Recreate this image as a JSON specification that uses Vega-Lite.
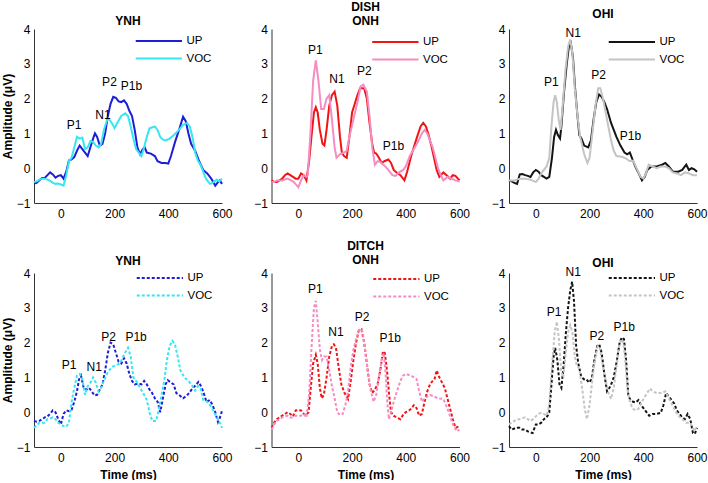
{
"$schema":"https://vega.github.io/schema/vega-lite/v6.json",
"padding":{"left":1,"top":0,"right":2,"bottom":0},
"resolve":{"scale":{"color":"independent","x":"independent","y":"independent"},"legend":{"color":"independent"},"axis":{"x":"independent","y":"independent"}},
"config":{
 "font":"Liberation Sans",
 "view":{"stroke":null},
 "axis":{"domainColor":"#333","ticks":false,"tickSize":0,"grid":false,"labelFontSize":12,"labelColor":"#000","labelFlush":false,"labelOverlap":false,"titleFontSize":12,"titleFontWeight":"bold","titleColor":"#000"},
 "axisX":{"labelPadding":5,"titlePadding":6},
 "axisY":{"labelPadding":4,"tickCount":6,"titlePadding":2},
 "title":{"fontSize":12,"fontWeight":"bold","anchor":"middle","lineHeight":14,"color":"#000"},
 "legend":{"orient":"none","symbolType":"M-8.25,0H1","symbolSize":100,"symbolStrokeWidth":2,"labelFontSize":11.5,"labelColor":"#000","padding":0,"rowPadding":5.5,"labelOffset":3.5,"title":null},
 "text":{"fontSize":12,"color":"#000"}
},
"datasets":{
"p1":[
{"s":"UP","t":-100,"v":-0.44},{"s":"UP","t":-90,"v":-0.42},{"s":"UP","t":-80,"v":-0.35},{"s":"UP","t":-70,"v":-0.28},{"s":"UP","t":-60,"v":-0.28},{"s":"UP","t":-50,"v":-0.2},{"s":"UP","t":-40,"v":-0.12},{"s":"UP","t":-30,"v":-0.18},{"s":"UP","t":-20,"v":-0.27},{"s":"UP","t":-10,"v":-0.22},{"s":"UP","t":0,"v":-0.2},{"s":"UP","t":10,"v":-0.3},{"s":"UP","t":20,"v":-0.1},{"s":"UP","t":30,"v":0.22},{"s":"UP","t":40,"v":0.25},{"s":"UP","t":50,"v":0.32},{"s":"UP","t":60,"v":0.5},{"s":"UP","t":70,"v":0.65},{"s":"UP","t":80,"v":0.55},{"s":"UP","t":90,"v":0.45},{"s":"UP","t":100,"v":0.35},{"s":"UP","t":110,"v":0.6},{"s":"UP","t":120,"v":0.85},{"s":"UP","t":127,"v":1.0},{"s":"UP","t":135,"v":0.9},{"s":"UP","t":145,"v":0.65},{"s":"UP","t":155,"v":0.7},{"s":"UP","t":165,"v":1.0},{"s":"UP","t":175,"v":1.5},{"s":"UP","t":185,"v":1.85},{"s":"UP","t":195,"v":2.05},{"s":"UP","t":205,"v":2.02},{"s":"UP","t":215,"v":1.92},{"s":"UP","t":225,"v":1.9},{"s":"UP","t":235,"v":1.95},{"s":"UP","t":245,"v":1.85},{"s":"UP","t":255,"v":1.65},{"s":"UP","t":265,"v":1.5},{"s":"UP","t":275,"v":1.1},{"s":"UP","t":285,"v":0.6},{"s":"UP","t":295,"v":0.4},{"s":"UP","t":305,"v":0.55},{"s":"UP","t":312,"v":0.6},{"s":"UP","t":320,"v":0.45},{"s":"UP","t":335,"v":0.42},{"s":"UP","t":350,"v":0.35},{"s":"UP","t":360,"v":0.2},{"s":"UP","t":375,"v":0.15},{"s":"UP","t":390,"v":0.15},{"s":"UP","t":400,"v":0.13},{"s":"UP","t":410,"v":0.35},{"s":"UP","t":425,"v":0.75},{"s":"UP","t":440,"v":1.1},{"s":"UP","t":455,"v":1.48},{"s":"UP","t":465,"v":1.35},{"s":"UP","t":475,"v":1.0},{"s":"UP","t":485,"v":0.7},{"s":"UP","t":500,"v":0.5},{"s":"UP","t":515,"v":0.2},{"s":"UP","t":530,"v":-0.05},{"s":"UP","t":545,"v":-0.15},{"s":"UP","t":560,"v":-0.3},{"s":"UP","t":575,"v":-0.5},{"s":"UP","t":585,"v":-0.4},{"s":"UP","t":592,"v":-0.35},{"s":"UP","t":600,"v":-0.45},
{"s":"VOC","t":-100,"v":-0.4},{"s":"VOC","t":-90,"v":-0.38},{"s":"VOC","t":-80,"v":-0.33},{"s":"VOC","t":-70,"v":-0.3},{"s":"VOC","t":-60,"v":-0.3},{"s":"VOC","t":-50,"v":-0.33},{"s":"VOC","t":-40,"v":-0.36},{"s":"VOC","t":-30,"v":-0.42},{"s":"VOC","t":-20,"v":-0.45},{"s":"VOC","t":-10,"v":-0.44},{"s":"VOC","t":0,"v":-0.47},{"s":"VOC","t":10,"v":-0.5},{"s":"VOC","t":20,"v":-0.2},{"s":"VOC","t":30,"v":0.2},{"s":"VOC","t":40,"v":0.3},{"s":"VOC","t":50,"v":0.6},{"s":"VOC","t":60,"v":0.9},{"s":"VOC","t":70,"v":0.85},{"s":"VOC","t":80,"v":0.88},{"s":"VOC","t":90,"v":0.55},{"s":"VOC","t":100,"v":0.6},{"s":"VOC","t":110,"v":0.78},{"s":"VOC","t":120,"v":0.75},{"s":"VOC","t":130,"v":0.65},{"s":"VOC","t":140,"v":0.6},{"s":"VOC","t":150,"v":0.7},{"s":"VOC","t":160,"v":1.1},{"s":"VOC","t":175,"v":1.45},{"s":"VOC","t":190,"v":1.3},{"s":"VOC","t":200,"v":1.15},{"s":"VOC","t":210,"v":1.3},{"s":"VOC","t":225,"v":1.5},{"s":"VOC","t":240,"v":1.58},{"s":"VOC","t":250,"v":1.5},{"s":"VOC","t":260,"v":1.2},{"s":"VOC","t":270,"v":0.85},{"s":"VOC","t":280,"v":0.55},{"s":"VOC","t":290,"v":0.45},{"s":"VOC","t":300,"v":0.35},{"s":"VOC","t":310,"v":0.6},{"s":"VOC","t":320,"v":0.9},{"s":"VOC","t":330,"v":1.15},{"s":"VOC","t":350,"v":1.2},{"s":"VOC","t":360,"v":1.1},{"s":"VOC","t":370,"v":0.9},{"s":"VOC","t":380,"v":0.82},{"s":"VOC","t":390,"v":0.8},{"s":"VOC","t":405,"v":0.85},{"s":"VOC","t":420,"v":0.95},{"s":"VOC","t":440,"v":1.1},{"s":"VOC","t":455,"v":1.25},{"s":"VOC","t":470,"v":1.3},{"s":"VOC","t":480,"v":1.2},{"s":"VOC","t":490,"v":0.9},{"s":"VOC","t":500,"v":0.45},{"s":"VOC","t":510,"v":0.22},{"s":"VOC","t":520,"v":0.1},{"s":"VOC","t":530,"v":-0.1},{"s":"VOC","t":540,"v":-0.3},{"s":"VOC","t":555,"v":-0.45},{"s":"VOC","t":565,"v":-0.42},{"s":"VOC","t":580,"v":-0.33},{"s":"VOC","t":590,"v":-0.38},{"s":"VOC","t":600,"v":-0.3}
],
"l1":[{"label":"P1","t":49,"v":1.24},{"label":"N1","t":157,"v":1.53},{"label":"P2","t":181,"v":2.49},{"label":"P1b","t":263,"v":2.37}],
"p2":[
{"s":"UP","t":-100,"v":-0.35},{"s":"UP","t":-90,"v":-0.4},{"s":"UP","t":-80,"v":-0.4},{"s":"UP","t":-70,"v":-0.35},{"s":"UP","t":-60,"v":-0.3},{"s":"UP","t":-50,"v":-0.2},{"s":"UP","t":-40,"v":-0.15},{"s":"UP","t":-30,"v":-0.2},{"s":"UP","t":-20,"v":-0.25},{"s":"UP","t":-10,"v":-0.3},{"s":"UP","t":0,"v":-0.3},{"s":"UP","t":10,"v":-0.15},{"s":"UP","t":20,"v":-0.2},{"s":"UP","t":30,"v":-0.35},{"s":"UP","t":40,"v":0.2},{"s":"UP","t":50,"v":1.0},{"s":"UP","t":58,"v":1.6},{"s":"UP","t":65,"v":1.75},{"s":"UP","t":72,"v":1.6},{"s":"UP","t":80,"v":1.1},{"s":"UP","t":90,"v":0.7},{"s":"UP","t":97,"v":0.65},{"s":"UP","t":105,"v":1.1},{"s":"UP","t":115,"v":1.8},{"s":"UP","t":125,"v":2.1},{"s":"UP","t":135,"v":2.2},{"s":"UP","t":145,"v":1.8},{"s":"UP","t":155,"v":0.9},{"s":"UP","t":162,"v":0.45},{"s":"UP","t":170,"v":0.35},{"s":"UP","t":180,"v":0.3},{"s":"UP","t":190,"v":0.9},{"s":"UP","t":200,"v":1.6},{"s":"UP","t":210,"v":1.85},{"s":"UP","t":220,"v":2.1},{"s":"UP","t":230,"v":2.3},{"s":"UP","t":245,"v":2.3},{"s":"UP","t":255,"v":2.0},{"s":"UP","t":265,"v":1.3},{"s":"UP","t":275,"v":0.7},{"s":"UP","t":282,"v":0.45},{"s":"UP","t":290,"v":0.42},{"s":"UP","t":300,"v":0.3},{"s":"UP","t":310,"v":0.15},{"s":"UP","t":320,"v":0.2},{"s":"UP","t":335,"v":0.25},{"s":"UP","t":345,"v":0.15},{"s":"UP","t":355,"v":-0.05},{"s":"UP","t":370,"v":-0.15},{"s":"UP","t":380,"v":-0.2},{"s":"UP","t":395,"v":-0.35},{"s":"UP","t":405,"v":-0.1},{"s":"UP","t":420,"v":0.35},{"s":"UP","t":440,"v":0.85},{"s":"UP","t":455,"v":1.2},{"s":"UP","t":465,"v":1.3},{"s":"UP","t":475,"v":1.2},{"s":"UP","t":485,"v":0.95},{"s":"UP","t":495,"v":0.65},{"s":"UP","t":505,"v":0.3},{"s":"UP","t":515,"v":-0.05},{"s":"UP","t":525,"v":-0.25},{"s":"UP","t":540,"v":-0.12},{"s":"UP","t":552,"v":-0.2},{"s":"UP","t":565,"v":-0.3},{"s":"UP","t":575,"v":-0.2},{"s":"UP","t":585,"v":-0.22},{"s":"UP","t":600,"v":-0.35},
{"s":"VOC","t":-100,"v":-0.4},{"s":"VOC","t":-90,"v":-0.4},{"s":"VOC","t":-80,"v":-0.35},{"s":"VOC","t":-60,"v":-0.35},{"s":"VOC","t":-40,"v":-0.3},{"s":"VOC","t":-20,"v":-0.38},{"s":"VOC","t":-5,"v":-0.5},{"s":"VOC","t":0,"v":-0.55},{"s":"VOC","t":10,"v":-0.35},{"s":"VOC","t":20,"v":-0.2},{"s":"VOC","t":30,"v":-0.25},{"s":"VOC","t":35,"v":-0.2},{"s":"VOC","t":45,"v":1.0},{"s":"VOC","t":55,"v":2.5},{"s":"VOC","t":65,"v":3.1},{"s":"VOC","t":75,"v":2.5},{"s":"VOC","t":85,"v":1.7},{"s":"VOC","t":95,"v":1.7},{"s":"VOC","t":105,"v":2.0},{"s":"VOC","t":115,"v":2.1},{"s":"VOC","t":125,"v":1.4},{"s":"VOC","t":135,"v":0.6},{"s":"VOC","t":142,"v":0.3},{"s":"VOC","t":155,"v":0.4},{"s":"VOC","t":170,"v":0.45},{"s":"VOC","t":180,"v":0.5},{"s":"VOC","t":190,"v":0.9},{"s":"VOC","t":205,"v":1.4},{"s":"VOC","t":220,"v":1.9},{"s":"VOC","t":232,"v":2.35},{"s":"VOC","t":242,"v":2.4},{"s":"VOC","t":255,"v":2.2},{"s":"VOC","t":265,"v":1.5},{"s":"VOC","t":275,"v":0.6},{"s":"VOC","t":285,"v":0.1},{"s":"VOC","t":295,"v":0.2},{"s":"VOC","t":305,"v":0.18},{"s":"VOC","t":320,"v":0.08},{"s":"VOC","t":335,"v":-0.05},{"s":"VOC","t":350,"v":-0.2},{"s":"VOC","t":362,"v":-0.22},{"s":"VOC","t":375,"v":-0.12},{"s":"VOC","t":390,"v":-0.05},{"s":"VOC","t":400,"v":0.05},{"s":"VOC","t":415,"v":0.35},{"s":"VOC","t":430,"v":0.55},{"s":"VOC","t":445,"v":0.75},{"s":"VOC","t":460,"v":1.0},{"s":"VOC","t":470,"v":1.1},{"s":"VOC","t":480,"v":1.0},{"s":"VOC","t":490,"v":0.8},{"s":"VOC","t":500,"v":0.6},{"s":"VOC","t":510,"v":0.3},{"s":"VOC","t":520,"v":0.0},{"s":"VOC","t":530,"v":-0.2},{"s":"VOC","t":540,"v":-0.35},{"s":"VOC","t":555,"v":-0.25},{"s":"VOC","t":570,"v":-0.3},{"s":"VOC","t":585,"v":-0.35},{"s":"VOC","t":600,"v":-0.38}
],
"l2":[{"label":"P1","t":63,"v":3.4},{"label":"N1","t":144,"v":2.55},{"label":"P2","t":246,"v":2.8},{"label":"P1b","t":354,"v":0.64}],
"p3":[
{"s":"UP","t":-100,"v":-0.35},{"s":"UP","t":-90,"v":-0.38},{"s":"UP","t":-80,"v":-0.42},{"s":"UP","t":-70,"v":-0.45},{"s":"UP","t":-60,"v":-0.18},{"s":"UP","t":-50,"v":-0.17},{"s":"UP","t":-40,"v":-0.2},{"s":"UP","t":-30,"v":-0.22},{"s":"UP","t":-20,"v":-0.25},{"s":"UP","t":-10,"v":-0.12},{"s":"UP","t":0,"v":-0.05},{"s":"UP","t":10,"v":-0.1},{"s":"UP","t":20,"v":-0.2},{"s":"UP","t":30,"v":-0.25},{"s":"UP","t":40,"v":-0.3},{"s":"UP","t":50,"v":-0.25},{"s":"UP","t":60,"v":0.3},{"s":"UP","t":68,"v":0.9},{"s":"UP","t":75,"v":1.1},{"s":"UP","t":82,"v":0.95},{"s":"UP","t":90,"v":0.85},{"s":"UP","t":95,"v":1.2},{"s":"UP","t":105,"v":2.2},{"s":"UP","t":115,"v":3.0},{"s":"UP","t":123,"v":3.5},{"s":"UP","t":130,"v":3.6},{"s":"UP","t":138,"v":3.2},{"s":"UP","t":146,"v":2.3},{"s":"UP","t":155,"v":1.5},{"s":"UP","t":162,"v":0.95},{"s":"UP","t":170,"v":0.85},{"s":"UP","t":180,"v":0.65},{"s":"UP","t":195,"v":0.6},{"s":"UP","t":205,"v":0.8},{"s":"UP","t":215,"v":1.4},{"s":"UP","t":225,"v":1.9},{"s":"UP","t":235,"v":2.12},{"s":"UP","t":245,"v":2.05},{"s":"UP","t":255,"v":1.9},{"s":"UP","t":265,"v":1.7},{"s":"UP","t":280,"v":1.3},{"s":"UP","t":300,"v":0.9},{"s":"UP","t":315,"v":0.65},{"s":"UP","t":330,"v":0.45},{"s":"UP","t":340,"v":0.4},{"s":"UP","t":350,"v":0.45},{"s":"UP","t":360,"v":0.25},{"s":"UP","t":370,"v":0.05},{"s":"UP","t":380,"v":-0.1},{"s":"UP","t":395,"v":-0.35},{"s":"UP","t":405,"v":-0.25},{"s":"UP","t":415,"v":-0.05},{"s":"UP","t":430,"v":0.05},{"s":"UP","t":450,"v":0.05},{"s":"UP","t":470,"v":0.1},{"s":"UP","t":482,"v":0.15},{"s":"UP","t":495,"v":0.05},{"s":"UP","t":510,"v":-0.1},{"s":"UP","t":530,"v":-0.1},{"s":"UP","t":545,"v":-0.05},{"s":"UP","t":560,"v":0.1},{"s":"UP","t":570,"v":-0.05},{"s":"UP","t":580,"v":0.0},{"s":"UP","t":590,"v":-0.03},{"s":"UP","t":600,"v":-0.1},
{"s":"VOC","t":-100,"v":-0.35},{"s":"VOC","t":-80,"v":-0.35},{"s":"VOC","t":-60,"v":-0.3},{"s":"VOC","t":-40,"v":-0.3},{"s":"VOC","t":-20,"v":-0.33},{"s":"VOC","t":0,"v":-0.4},{"s":"VOC","t":10,"v":-0.3},{"s":"VOC","t":20,"v":-0.15},{"s":"VOC","t":30,"v":-0.05},{"s":"VOC","t":40,"v":0.05},{"s":"VOC","t":50,"v":0.3},{"s":"VOC","t":58,"v":1.2},{"s":"VOC","t":66,"v":1.9},{"s":"VOC","t":72,"v":2.1},{"s":"VOC","t":78,"v":1.9},{"s":"VOC","t":85,"v":1.4},{"s":"VOC","t":92,"v":1.1},{"s":"VOC","t":100,"v":1.8},{"s":"VOC","t":110,"v":2.8},{"s":"VOC","t":120,"v":3.5},{"s":"VOC","t":128,"v":3.7},{"s":"VOC","t":136,"v":3.3},{"s":"VOC","t":145,"v":2.3},{"s":"VOC","t":155,"v":1.5},{"s":"VOC","t":165,"v":0.9},{"s":"VOC","t":180,"v":0.4},{"s":"VOC","t":192,"v":0.15},{"s":"VOC","t":200,"v":0.3},{"s":"VOC","t":212,"v":1.1},{"s":"VOC","t":222,"v":1.8},{"s":"VOC","t":232,"v":2.3},{"s":"VOC","t":240,"v":2.3},{"s":"VOC","t":250,"v":2.0},{"s":"VOC","t":260,"v":1.6},{"s":"VOC","t":270,"v":1.2},{"s":"VOC","t":280,"v":0.8},{"s":"VOC","t":290,"v":0.5},{"s":"VOC","t":300,"v":0.35},{"s":"VOC","t":320,"v":0.33},{"s":"VOC","t":335,"v":0.28},{"s":"VOC","t":350,"v":0.2},{"s":"VOC","t":362,"v":0.22},{"s":"VOC","t":375,"v":0.0},{"s":"VOC","t":390,"v":-0.25},{"s":"VOC","t":400,"v":-0.3},{"s":"VOC","t":410,"v":-0.15},{"s":"VOC","t":420,"v":0.1},{"s":"VOC","t":435,"v":0.05},{"s":"VOC","t":450,"v":0.0},{"s":"VOC","t":465,"v":0.05},{"s":"VOC","t":480,"v":0.05},{"s":"VOC","t":495,"v":0.0},{"s":"VOC","t":510,"v":-0.12},{"s":"VOC","t":525,"v":-0.15},{"s":"VOC","t":540,"v":-0.2},{"s":"VOC","t":555,"v":-0.12},{"s":"VOC","t":570,"v":-0.15},{"s":"VOC","t":585,"v":-0.2},{"s":"VOC","t":600,"v":-0.2}
],
"l3":[{"label":"P1","t":58,"v":2.47},{"label":"N1","t":139,"v":3.89},{"label":"P2","t":234,"v":2.67},{"label":"P1b","t":352,"v":0.93}],
"p4":[
{"s":"UP","t":-100,"v":-0.25},{"s":"UP","t":-90,"v":-0.27},{"s":"UP","t":-80,"v":-0.25},{"s":"UP","t":-70,"v":-0.2},{"s":"UP","t":-60,"v":-0.15},{"s":"UP","t":-50,"v":-0.12},{"s":"UP","t":-40,"v":-0.05},{"s":"UP","t":-30,"v":0.05},{"s":"UP","t":-20,"v":0.0},{"s":"UP","t":-10,"v":-0.2},{"s":"UP","t":0,"v":-0.35},{"s":"UP","t":10,"v":-0.05},{"s":"UP","t":20,"v":0.05},{"s":"UP","t":30,"v":0.03},{"s":"UP","t":40,"v":0.07},{"s":"UP","t":50,"v":0.3},{"s":"UP","t":60,"v":0.6},{"s":"UP","t":68,"v":0.95},{"s":"UP","t":75,"v":1.05},{"s":"UP","t":85,"v":0.7},{"s":"UP","t":95,"v":0.65},{"s":"UP","t":105,"v":0.7},{"s":"UP","t":115,"v":0.6},{"s":"UP","t":125,"v":0.48},{"s":"UP","t":135,"v":0.5},{"s":"UP","t":145,"v":0.65},{"s":"UP","t":155,"v":0.8},{"s":"UP","t":165,"v":1.2},{"s":"UP","t":175,"v":1.7},{"s":"UP","t":185,"v":2.0},{"s":"UP","t":195,"v":1.95},{"s":"UP","t":205,"v":1.7},{"s":"UP","t":215,"v":1.45},{"s":"UP","t":225,"v":1.4},{"s":"UP","t":235,"v":1.55},{"s":"UP","t":245,"v":1.4},{"s":"UP","t":255,"v":1.1},{"s":"UP","t":265,"v":0.9},{"s":"UP","t":275,"v":0.8},{"s":"UP","t":290,"v":0.82},{"s":"UP","t":300,"v":0.8},{"s":"UP","t":310,"v":0.9},{"s":"UP","t":320,"v":0.8},{"s":"UP","t":330,"v":0.65},{"s":"UP","t":340,"v":0.55},{"s":"UP","t":350,"v":0.4},{"s":"UP","t":360,"v":0.3},{"s":"UP","t":370,"v":0.0},{"s":"UP","t":380,"v":0.4},{"s":"UP","t":390,"v":0.8},{"s":"UP","t":398,"v":0.92},{"s":"UP","t":410,"v":0.85},{"s":"UP","t":420,"v":0.8},{"s":"UP","t":430,"v":0.55},{"s":"UP","t":440,"v":0.5},{"s":"UP","t":455,"v":0.4},{"s":"UP","t":470,"v":0.48},{"s":"UP","t":490,"v":0.68},{"s":"UP","t":505,"v":0.8},{"s":"UP","t":512,"v":0.87},{"s":"UP","t":522,"v":0.75},{"s":"UP","t":532,"v":0.55},{"s":"UP","t":542,"v":0.3},{"s":"UP","t":555,"v":0.35},{"s":"UP","t":565,"v":0.2},{"s":"UP","t":575,"v":0.0},{"s":"UP","t":585,"v":-0.28},{"s":"UP","t":595,"v":-0.1},{"s":"UP","t":600,"v":0.05},
{"s":"VOC","t":-100,"v":-0.45},{"s":"VOC","t":-90,"v":-0.38},{"s":"VOC","t":-80,"v":-0.3},{"s":"VOC","t":-70,"v":-0.3},{"s":"VOC","t":-60,"v":-0.3},{"s":"VOC","t":-50,"v":-0.2},{"s":"VOC","t":-40,"v":-0.18},{"s":"VOC","t":-30,"v":-0.15},{"s":"VOC","t":-20,"v":-0.2},{"s":"VOC","t":-10,"v":-0.3},{"s":"VOC","t":0,"v":-0.35},{"s":"VOC","t":10,"v":-0.4},{"s":"VOC","t":20,"v":-0.42},{"s":"VOC","t":30,"v":-0.3},{"s":"VOC","t":40,"v":0.3},{"s":"VOC","t":50,"v":0.7},{"s":"VOC","t":60,"v":1.05},{"s":"VOC","t":70,"v":1.1},{"s":"VOC","t":80,"v":0.95},{"s":"VOC","t":90,"v":0.5},{"s":"VOC","t":100,"v":0.75},{"s":"VOC","t":110,"v":0.85},{"s":"VOC","t":120,"v":1.0},{"s":"VOC","t":130,"v":0.85},{"s":"VOC","t":140,"v":0.6},{"s":"VOC","t":150,"v":0.7},{"s":"VOC","t":160,"v":0.9},{"s":"VOC","t":175,"v":1.15},{"s":"VOC","t":190,"v":1.3},{"s":"VOC","t":205,"v":1.35},{"s":"VOC","t":220,"v":1.4},{"s":"VOC","t":235,"v":1.65},{"s":"VOC","t":250,"v":1.85},{"s":"VOC","t":260,"v":1.6},{"s":"VOC","t":270,"v":1.0},{"s":"VOC","t":280,"v":0.9},{"s":"VOC","t":295,"v":0.7},{"s":"VOC","t":310,"v":0.5},{"s":"VOC","t":320,"v":0.35},{"s":"VOC","t":330,"v":0.0},{"s":"VOC","t":340,"v":-0.25},{"s":"VOC","t":355,"v":-0.25},{"s":"VOC","t":365,"v":0.1},{"s":"VOC","t":375,"v":0.5},{"s":"VOC","t":385,"v":0.9},{"s":"VOC","t":395,"v":1.5},{"s":"VOC","t":405,"v":1.9},{"s":"VOC","t":415,"v":2.05},{"s":"VOC","t":425,"v":1.95},{"s":"VOC","t":435,"v":1.6},{"s":"VOC","t":445,"v":1.2},{"s":"VOC","t":460,"v":1.0},{"s":"VOC","t":475,"v":0.9},{"s":"VOC","t":490,"v":0.75},{"s":"VOC","t":500,"v":0.62},{"s":"VOC","t":510,"v":0.75},{"s":"VOC","t":520,"v":0.7},{"s":"VOC","t":530,"v":0.35},{"s":"VOC","t":545,"v":0.3},{"s":"VOC","t":560,"v":0.15},{"s":"VOC","t":570,"v":0.0},{"s":"VOC","t":585,"v":-0.2},{"s":"VOC","t":595,"v":-0.35},{"s":"VOC","t":600,"v":-0.45}
],
"l4":[{"label":"P1","t":31,"v":1.35},{"label":"N1","t":124,"v":1.3},{"label":"P2","t":178,"v":2.16},{"label":"P1b","t":280,"v":2.16}],
"p5":[
{"s":"UP","t":-100,"v":-0.45},{"s":"UP","t":-90,"v":-0.3},{"s":"UP","t":-80,"v":-0.2},{"s":"UP","t":-70,"v":-0.15},{"s":"UP","t":-60,"v":-0.1},{"s":"UP","t":-50,"v":-0.05},{"s":"UP","t":-40,"v":0.0},{"s":"UP","t":-30,"v":-0.05},{"s":"UP","t":-20,"v":-0.12},{"s":"UP","t":-10,"v":0.05},{"s":"UP","t":0,"v":0.06},{"s":"UP","t":10,"v":0.05},{"s":"UP","t":20,"v":-0.05},{"s":"UP","t":30,"v":-0.08},{"s":"UP","t":38,"v":0.0},{"s":"UP","t":45,"v":0.6},{"s":"UP","t":55,"v":1.4},{"s":"UP","t":65,"v":1.65},{"s":"UP","t":72,"v":1.4},{"s":"UP","t":80,"v":0.7},{"s":"UP","t":87,"v":0.4},{"s":"UP","t":95,"v":0.5},{"s":"UP","t":105,"v":1.0},{"s":"UP","t":115,"v":1.6},{"s":"UP","t":125,"v":1.9},{"s":"UP","t":132,"v":1.95},{"s":"UP","t":140,"v":1.85},{"s":"UP","t":150,"v":1.3},{"s":"UP","t":160,"v":0.8},{"s":"UP","t":172,"v":0.55},{"s":"UP","t":185,"v":0.38},{"s":"UP","t":195,"v":0.9},{"s":"UP","t":205,"v":1.5},{"s":"UP","t":215,"v":2.0},{"s":"UP","t":225,"v":2.35},{"s":"UP","t":235,"v":2.38},{"s":"UP","t":245,"v":2.0},{"s":"UP","t":255,"v":1.4},{"s":"UP","t":265,"v":0.8},{"s":"UP","t":275,"v":0.55},{"s":"UP","t":285,"v":0.65},{"s":"UP","t":295,"v":0.8},{"s":"UP","t":305,"v":1.2},{"s":"UP","t":315,"v":1.75},{"s":"UP","t":322,"v":1.7},{"s":"UP","t":330,"v":1.2},{"s":"UP","t":338,"v":0.5},{"s":"UP","t":345,"v":0.0},{"s":"UP","t":355,"v":-0.1},{"s":"UP","t":365,"v":-0.15},{"s":"UP","t":380,"v":-0.2},{"s":"UP","t":392,"v":-0.05},{"s":"UP","t":400,"v":0.0},{"s":"UP","t":412,"v":0.05},{"s":"UP","t":420,"v":0.1},{"s":"UP","t":430,"v":0.2},{"s":"UP","t":440,"v":0.12},{"s":"UP","t":450,"v":-0.1},{"s":"UP","t":460,"v":-0.05},{"s":"UP","t":470,"v":0.3},{"s":"UP","t":480,"v":0.6},{"s":"UP","t":490,"v":0.8},{"s":"UP","t":500,"v":0.9},{"s":"UP","t":507,"v":0.95},{"s":"UP","t":515,"v":1.2},{"s":"UP","t":525,"v":1.0},{"s":"UP","t":535,"v":0.85},{"s":"UP","t":545,"v":0.7},{"s":"UP","t":555,"v":0.4},{"s":"UP","t":565,"v":0.1},{"s":"UP","t":575,"v":-0.2},{"s":"UP","t":585,"v":-0.45},{"s":"UP","t":600,"v":-0.4},
{"s":"VOC","t":-100,"v":-0.5},{"s":"VOC","t":-90,"v":-0.35},{"s":"VOC","t":-80,"v":-0.25},{"s":"VOC","t":-70,"v":-0.2},{"s":"VOC","t":-60,"v":-0.15},{"s":"VOC","t":-50,"v":-0.12},{"s":"VOC","t":-40,"v":-0.1},{"s":"VOC","t":-30,"v":-0.15},{"s":"VOC","t":-20,"v":-0.15},{"s":"VOC","t":-10,"v":-0.1},{"s":"VOC","t":0,"v":-0.1},{"s":"VOC","t":10,"v":-0.1},{"s":"VOC","t":20,"v":-0.05},{"s":"VOC","t":30,"v":-0.15},{"s":"VOC","t":40,"v":0.5},{"s":"VOC","t":50,"v":2.0},{"s":"VOC","t":58,"v":3.0},{"s":"VOC","t":65,"v":3.2},{"s":"VOC","t":72,"v":2.6},{"s":"VOC","t":80,"v":1.8},{"s":"VOC","t":88,"v":1.5},{"s":"VOC","t":95,"v":1.6},{"s":"VOC","t":105,"v":1.6},{"s":"VOC","t":115,"v":1.2},{"s":"VOC","t":125,"v":0.75},{"s":"VOC","t":135,"v":0.4},{"s":"VOC","t":145,"v":0.0},{"s":"VOC","t":155,"v":-0.08},{"s":"VOC","t":165,"v":-0.05},{"s":"VOC","t":175,"v":0.2},{"s":"VOC","t":185,"v":0.6},{"s":"VOC","t":195,"v":1.3},{"s":"VOC","t":205,"v":1.8},{"s":"VOC","t":215,"v":2.1},{"s":"VOC","t":225,"v":2.35},{"s":"VOC","t":232,"v":2.4},{"s":"VOC","t":240,"v":2.3},{"s":"VOC","t":250,"v":1.7},{"s":"VOC","t":260,"v":1.1},{"s":"VOC","t":270,"v":0.6},{"s":"VOC","t":280,"v":0.3},{"s":"VOC","t":290,"v":0.5},{"s":"VOC","t":300,"v":1.0},{"s":"VOC","t":310,"v":1.5},{"s":"VOC","t":318,"v":1.7},{"s":"VOC","t":325,"v":1.1},{"s":"VOC","t":330,"v":0.4},{"s":"VOC","t":337,"v":-0.2},{"s":"VOC","t":345,"v":0.0},{"s":"VOC","t":355,"v":0.3},{"s":"VOC","t":365,"v":0.55},{"s":"VOC","t":380,"v":0.9},{"s":"VOC","t":390,"v":1.05},{"s":"VOC","t":400,"v":1.1},{"s":"VOC","t":420,"v":1.05},{"s":"VOC","t":440,"v":0.95},{"s":"VOC","t":450,"v":0.6},{"s":"VOC","t":460,"v":0.3},{"s":"VOC","t":470,"v":0.4},{"s":"VOC","t":480,"v":0.45},{"s":"VOC","t":490,"v":0.5},{"s":"VOC","t":505,"v":0.45},{"s":"VOC","t":520,"v":0.4},{"s":"VOC","t":540,"v":0.38},{"s":"VOC","t":550,"v":0.2},{"s":"VOC","t":560,"v":0.0},{"s":"VOC","t":575,"v":-0.35},{"s":"VOC","t":590,"v":-0.55},{"s":"VOC","t":600,"v":-0.5}
],
"l5":[{"label":"P1","t":63,"v":3.55},{"label":"N1","t":140,"v":2.3},{"label":"P2","t":237,"v":2.74},{"label":"P1b","t":342,"v":2.14}],
"p6":[
{"s":"UP","t":-100,"v":-0.4},{"s":"UP","t":-90,"v":-0.5},{"s":"UP","t":-80,"v":-0.47},{"s":"UP","t":-70,"v":-0.45},{"s":"UP","t":-60,"v":-0.45},{"s":"UP","t":-50,"v":-0.5},{"s":"UP","t":-40,"v":-0.5},{"s":"UP","t":-30,"v":-0.55},{"s":"UP","t":-20,"v":-0.58},{"s":"UP","t":-12,"v":-0.6},{"s":"UP","t":0,"v":-0.35},{"s":"UP","t":10,"v":-0.35},{"s":"UP","t":20,"v":-0.3},{"s":"UP","t":30,"v":-0.2},{"s":"UP","t":40,"v":-0.15},{"s":"UP","t":50,"v":0.0},{"s":"UP","t":58,"v":0.8},{"s":"UP","t":66,"v":1.6},{"s":"UP","t":72,"v":1.85},{"s":"UP","t":80,"v":1.5},{"s":"UP","t":88,"v":0.8},{"s":"UP","t":95,"v":0.7},{"s":"UP","t":103,"v":1.3},{"s":"UP","t":112,"v":2.3},{"s":"UP","t":120,"v":3.0},{"s":"UP","t":128,"v":3.5},{"s":"UP","t":135,"v":3.75},{"s":"UP","t":142,"v":3.2},{"s":"UP","t":150,"v":1.9},{"s":"UP","t":158,"v":1.4},{"s":"UP","t":168,"v":1.05},{"s":"UP","t":178,"v":0.95},{"s":"UP","t":188,"v":0.95},{"s":"UP","t":198,"v":0.85},{"s":"UP","t":208,"v":0.95},{"s":"UP","t":218,"v":1.5},{"s":"UP","t":228,"v":1.9},{"s":"UP","t":236,"v":1.95},{"s":"UP","t":245,"v":1.7},{"s":"UP","t":255,"v":1.1},{"s":"UP","t":265,"v":0.6},{"s":"UP","t":278,"v":0.75},{"s":"UP","t":290,"v":1.0},{"s":"UP","t":302,"v":1.5},{"s":"UP","t":312,"v":2.0},{"s":"UP","t":320,"v":2.15},{"s":"UP","t":328,"v":2.1},{"s":"UP","t":336,"v":1.5},{"s":"UP","t":344,"v":0.5},{"s":"UP","t":352,"v":0.35},{"s":"UP","t":362,"v":0.3},{"s":"UP","t":372,"v":0.28},{"s":"UP","t":382,"v":0.35},{"s":"UP","t":392,"v":0.2},{"s":"UP","t":402,"v":0.1},{"s":"UP","t":412,"v":0.0},{"s":"UP","t":422,"v":-0.1},{"s":"UP","t":435,"v":-0.05},{"s":"UP","t":450,"v":-0.05},{"s":"UP","t":465,"v":-0.02},{"s":"UP","t":475,"v":0.2},{"s":"UP","t":485,"v":0.55},{"s":"UP","t":495,"v":0.45},{"s":"UP","t":505,"v":0.35},{"s":"UP","t":515,"v":0.25},{"s":"UP","t":525,"v":0.05},{"s":"UP","t":535,"v":-0.05},{"s":"UP","t":545,"v":-0.15},{"s":"UP","t":555,"v":-0.2},{"s":"UP","t":565,"v":-0.05},{"s":"UP","t":575,"v":-0.2},{"s":"UP","t":585,"v":-0.6},{"s":"UP","t":592,"v":-0.62},{"s":"UP","t":600,"v":-0.45},
{"s":"VOC","t":-100,"v":-0.35},{"s":"VOC","t":-90,"v":-0.3},{"s":"VOC","t":-80,"v":-0.25},{"s":"VOC","t":-70,"v":-0.2},{"s":"VOC","t":-60,"v":-0.2},{"s":"VOC","t":-50,"v":-0.17},{"s":"VOC","t":-40,"v":-0.15},{"s":"VOC","t":-30,"v":-0.2},{"s":"VOC","t":-20,"v":-0.25},{"s":"VOC","t":-10,"v":-0.2},{"s":"VOC","t":0,"v":-0.12},{"s":"VOC","t":10,"v":-0.05},{"s":"VOC","t":20,"v":-0.02},{"s":"VOC","t":30,"v":-0.05},{"s":"VOC","t":40,"v":-0.1},{"s":"VOC","t":50,"v":0.2},{"s":"VOC","t":60,"v":1.3},{"s":"VOC","t":70,"v":2.3},{"s":"VOC","t":78,"v":2.6},{"s":"VOC","t":86,"v":2.1},{"s":"VOC","t":94,"v":1.2},{"s":"VOC","t":102,"v":1.0},{"s":"VOC","t":110,"v":1.6},{"s":"VOC","t":120,"v":2.3},{"s":"VOC","t":128,"v":2.5},{"s":"VOC","t":136,"v":2.3},{"s":"VOC","t":145,"v":1.6},{"s":"VOC","t":152,"v":1.35},{"s":"VOC","t":162,"v":1.25},{"s":"VOC","t":172,"v":0.7},{"s":"VOC","t":182,"v":0.1},{"s":"VOC","t":190,"v":-0.2},{"s":"VOC","t":200,"v":0.2},{"s":"VOC","t":210,"v":0.9},{"s":"VOC","t":220,"v":1.5},{"s":"VOC","t":230,"v":1.9},{"s":"VOC","t":238,"v":1.85},{"s":"VOC","t":248,"v":1.4},{"s":"VOC","t":258,"v":1.0},{"s":"VOC","t":268,"v":0.6},{"s":"VOC","t":280,"v":0.38},{"s":"VOC","t":290,"v":0.7},{"s":"VOC","t":300,"v":1.3},{"s":"VOC","t":310,"v":1.9},{"s":"VOC","t":318,"v":2.1},{"s":"VOC","t":326,"v":2.0},{"s":"VOC","t":334,"v":1.4},{"s":"VOC","t":342,"v":0.6},{"s":"VOC","t":352,"v":0.25},{"s":"VOC","t":362,"v":0.1},{"s":"VOC","t":372,"v":0.05},{"s":"VOC","t":382,"v":0.1},{"s":"VOC","t":395,"v":0.3},{"s":"VOC","t":410,"v":0.5},{"s":"VOC","t":425,"v":0.68},{"s":"VOC","t":435,"v":0.6},{"s":"VOC","t":450,"v":0.55},{"s":"VOC","t":470,"v":0.55},{"s":"VOC","t":482,"v":0.6},{"s":"VOC","t":492,"v":0.45},{"s":"VOC","t":502,"v":0.3},{"s":"VOC","t":515,"v":0.1},{"s":"VOC","t":530,"v":-0.1},{"s":"VOC","t":545,"v":-0.2},{"s":"VOC","t":560,"v":-0.3},{"s":"VOC","t":575,"v":-0.3},{"s":"VOC","t":590,"v":-0.55},{"s":"VOC","t":600,"v":-0.4}
],
"l6":[{"label":"P1","t":68,"v":2.87},{"label":"N1","t":139,"v":4.02},{"label":"P2","t":227,"v":2.19},{"label":"P1b","t":329,"v":2.46}]
},
"columns":3,
"spacing":{"row":21,"column":20.5},
"concat":[
{"title":{"text":"YNH","offset":-4.8},"width":188,"height":174,"layer":[
 {"data":{"name":"p1"},"mark":{"type":"line","strokeWidth":2},"encoding":{
  "x":{"field":"t","type":"quantitative","scale":{"domain":[-100,600]},"axis":{"values":[0,200,400,600],"title":null}},
  "y":{"field":"v","type":"quantitative","scale":{"domain":[-1,4]},"axis":{"values":[-1,0,1,2,3,4],"tickCount":6,"title":"Amplitude (μV)"}},
  "color":{"field":"s","type":"nominal","scale":{"domain":["UP","VOC"],"range":["#1e1ed7","#36e6f2"]},"legend":{"legendX":137,"legendY":6}}}},
 {"data":{"name":"l1"},"mark":{"type":"text"},"encoding":{"x":{"field":"t","type":"quantitative"},"y":{"field":"v","type":"quantitative"},"text":{"field":"label"}}}
]},
{"title":{"text":["DISH","ONH"],"offset":-4.8},"width":188,"height":174,"layer":[
 {"data":{"name":"p2"},"mark":{"type":"line","strokeWidth":2},"encoding":{
  "x":{"field":"t","type":"quantitative","scale":{"domain":[-100,600]},"axis":{"values":[0,200,400,600],"title":null}},
  "y":{"field":"v","type":"quantitative","scale":{"domain":[-1,4]},"axis":{"values":[-1,0,1,2,3,4],"tickCount":6,"title":null}},
  "color":{"field":"s","type":"nominal","scale":{"domain":["UP","VOC"],"range":["#f01414","#f58cc3"]},"legend":{"legendX":136,"legendY":7}}}},
 {"data":{"name":"l2"},"mark":{"type":"text"},"encoding":{"x":{"field":"t","type":"quantitative"},"y":{"field":"v","type":"quantitative"},"text":{"field":"label"}}}
]},
{"title":{"text":"OHI","offset":1.8},"width":188,"height":174,"layer":[
 {"data":{"name":"p3"},"mark":{"type":"line","strokeWidth":2},"encoding":{
  "x":{"field":"t","type":"quantitative","scale":{"domain":[-100,600]},"axis":{"values":[0,200,400,600],"title":null}},
  "y":{"field":"v","type":"quantitative","scale":{"domain":[-1,4]},"axis":{"values":[-1,0,1,2,3,4],"tickCount":6,"title":null}},
  "color":{"field":"s","type":"nominal","scale":{"domain":["UP","VOC"],"range":["#141414","#c4c4c4"]},"legend":{"legendX":135,"legendY":7}}}},
 {"data":{"name":"l3"},"mark":{"type":"text"},"encoding":{"x":{"field":"t","type":"quantitative"},"y":{"field":"v","type":"quantitative"},"text":{"field":"label"}}}
]},
{"title":{"text":"YNH","offset":-1.4},"width":188,"height":174,"layer":[
 {"data":{"name":"p4"},"mark":{"type":"line","strokeWidth":2,"strokeDash":[3,2]},"encoding":{
  "x":{"field":"t","type":"quantitative","scale":{"domain":[-100,600]},"axis":{"values":[0,200,400,600],"title":"Time (ms)"}},
  "y":{"field":"v","type":"quantitative","scale":{"domain":[-1,4]},"axis":{"values":[-1,0,1,2,3,4],"tickCount":6,"title":"Amplitude (μV)"}},
  "color":{"field":"s","type":"nominal","scale":{"domain":["UP","VOC"],"range":["#1e1ed7","#36e6f2"]},"legend":{"symbolDash":[3,2],"legendX":138,"legendY":-1}}}},
 {"data":{"name":"l4"},"mark":{"type":"text"},"encoding":{"x":{"field":"t","type":"quantitative"},"y":{"field":"v","type":"quantitative"},"text":{"field":"label"}}}
]},
{"title":{"text":["DITCH","ONH"],"offset":-0.2},"width":188,"height":174,"layer":[
 {"data":{"name":"p5"},"mark":{"type":"line","strokeWidth":2,"strokeDash":[3,2]},"encoding":{
  "x":{"field":"t","type":"quantitative","scale":{"domain":[-100,600]},"axis":{"values":[0,200,400,600],"title":"Time (ms)"}},
  "y":{"field":"v","type":"quantitative","scale":{"domain":[-1,4]},"axis":{"values":[-1,0,1,2,3,4],"tickCount":6,"title":null}},
  "color":{"field":"s","type":"nominal","scale":{"domain":["UP","VOC"],"range":["#f01414","#f58cc3"]},"legend":{"symbolDash":[3,2],"legendX":137,"legendY":0}}}},
 {"data":{"name":"l5"},"mark":{"type":"text"},"encoding":{"x":{"field":"t","type":"quantitative"},"y":{"field":"v","type":"quantitative"},"text":{"field":"label"}}}
]},
{"title":{"text":"OHI","offset":-3.4},"width":188,"height":174,"layer":[
 {"data":{"name":"p6"},"mark":{"type":"line","strokeWidth":2,"strokeDash":[3,2]},"encoding":{
  "x":{"field":"t","type":"quantitative","scale":{"domain":[-100,600]},"axis":{"values":[0,200,400,600],"title":"Time (ms)"}},
  "y":{"field":"v","type":"quantitative","scale":{"domain":[-1,4]},"axis":{"values":[-1,0,1,2,3,4],"tickCount":6,"title":null}},
  "color":{"field":"s","type":"nominal","scale":{"domain":["UP","VOC"],"range":["#141414","#c4c4c4"]},"legend":{"symbolDash":[3,2],"legendX":135,"legendY":-1}}}},
 {"data":{"name":"l6"},"mark":{"type":"text"},"encoding":{"x":{"field":"t","type":"quantitative"},"y":{"field":"v","type":"quantitative"},"text":{"field":"label"}}}
]}
]
}
